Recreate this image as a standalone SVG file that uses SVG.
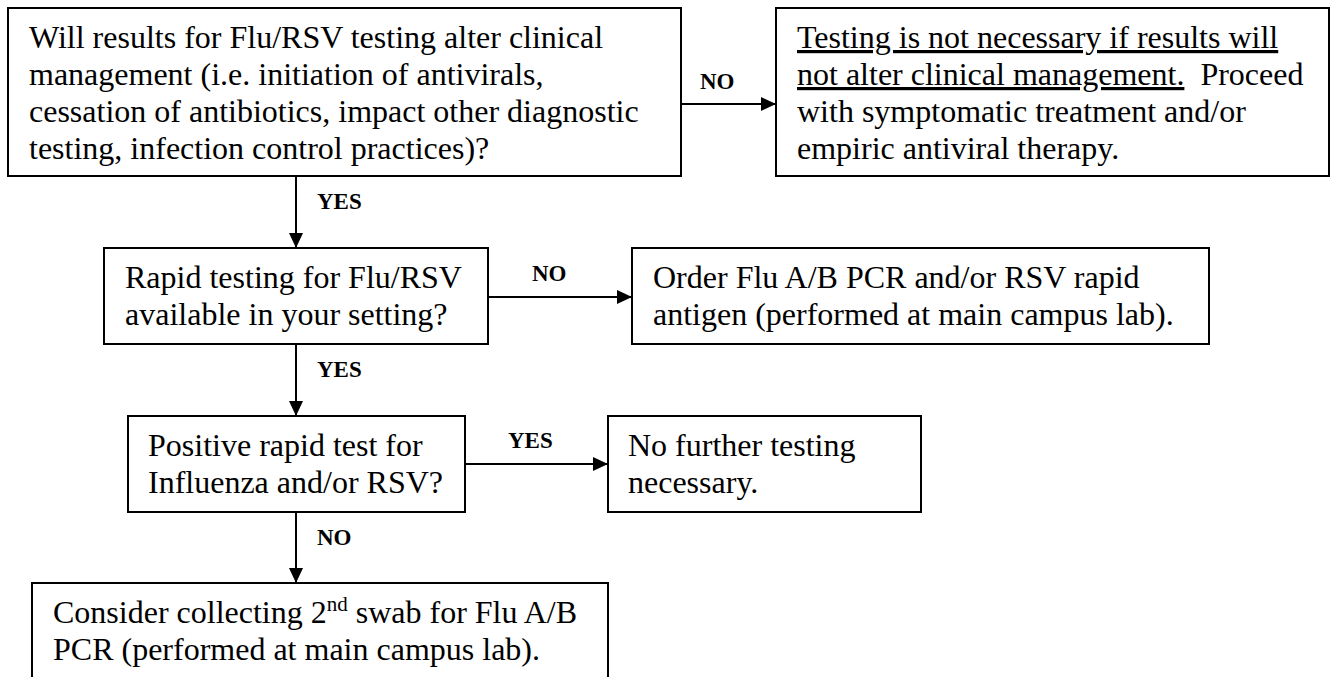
<svg xmlns="http://www.w3.org/2000/svg" width="1334" height="677" viewBox="0 0 1334 677">
<style>
  .box { fill: #ffffff; stroke: #000000; stroke-width: 2; }
  .txt { font-family: "Liberation Serif", "Times New Roman", serif; font-size: 32px; fill: #000000; white-space: pre; }
  .lbl { font-family: "Liberation Serif", "Times New Roman", serif; font-size: 23px; font-weight: bold; fill: #000000; }
  .conn { stroke: #000000; stroke-width: 2; fill: none; marker-end: url(#arrow); }
  .u { text-decoration: underline; }
</style>
<defs>
  <marker id="arrow" viewBox="0 0 15 14" refX="15" refY="7" markerWidth="15" markerHeight="14" markerUnits="userSpaceOnUse" orient="auto">
    <path d="M0,0 L15,7 L0,14 z" fill="#000000"/>
  </marker>
</defs>
<rect width="1334" height="677" fill="#ffffff"/>

<g id="connectors">
  <line class="conn" x1="681" y1="104" x2="776" y2="104"/>
  <line class="conn" x1="296" y1="176" x2="296" y2="248"/>
  <line class="conn" x1="488" y1="297" x2="632" y2="297"/>
  <line class="conn" x1="296" y1="344" x2="296" y2="416"/>
  <line class="conn" x1="465" y1="464" x2="608" y2="464"/>
  <line class="conn" x1="296" y1="512" x2="296" y2="583"/>
  <text class="lbl" x="700" y="89">NO</text>
  <text class="lbl" x="317" y="209">YES</text>
  <text class="lbl" x="532" y="281">NO</text>
  <text class="lbl" x="317" y="377">YES</text>
  <text class="lbl" x="508" y="448">YES</text>
  <text class="lbl" x="317" y="545">NO</text>
</g>

<g id="node-alter">
  <rect class="box" x="8" y="8" width="673" height="168"/>
  <text class="txt" x="29" y="48">Will results for Flu/RSV testing alter clinical</text>
  <text class="txt" x="29" y="85">management (i.e. initiation of antivirals,</text>
  <text class="txt" x="29" y="122">cessation of antibiotics, impact other diagnostic</text>
  <text class="txt" x="29" y="159">testing, infection control practices)?</text>
</g>

<g id="node-not-necessary">
  <rect class="box" x="776" y="8" width="553" height="168"/>
  <text class="txt" x="797" y="48"><tspan class="u">Testing is not necessary if results will</tspan></text>
  <text class="txt" x="797" y="85"><tspan class="u">not alter clinical management.</tspan>  Proceed</text>
  <text class="txt" x="797" y="122">with symptomatic treatment and/or</text>
  <text class="txt" x="797" y="159">empiric antiviral therapy.</text>
</g>

<g id="node-rapid-available">
  <rect class="box" x="104" y="248" width="384" height="96"/>
  <text class="txt" x="125" y="288">Rapid testing for Flu/RSV</text>
  <text class="txt" x="125" y="325">available in your setting?</text>
</g>

<g id="node-order-pcr">
  <rect class="box" x="632" y="248" width="577" height="96"/>
  <text class="txt" x="653" y="288">Order Flu A/B PCR and/or RSV rapid</text>
  <text class="txt" x="653" y="325">antigen (performed at main campus lab).</text>
</g>

<g id="node-positive">
  <rect class="box" x="128" y="416" width="337" height="96"/>
  <text class="txt" x="148" y="456">Positive rapid test for</text>
  <text class="txt" x="148" y="493">Influenza and/or RSV?</text>
</g>

<g id="node-no-further">
  <rect class="box" x="608" y="416" width="313" height="96"/>
  <text class="txt" x="628" y="456">No further testing</text>
  <text class="txt" x="628" y="493">necessary.</text>
</g>

<g id="node-second-swab">
  <rect class="box" x="32" y="583" width="576" height="110"/>
  <text class="txt" x="53" y="623">Consider collecting 2<tspan font-size="21" dy="-12">nd</tspan><tspan dy="12"> swab for Flu A/B</tspan></text>
  <text class="txt" x="53" y="660">PCR (performed at main campus lab).</text>
</g>
</svg>
